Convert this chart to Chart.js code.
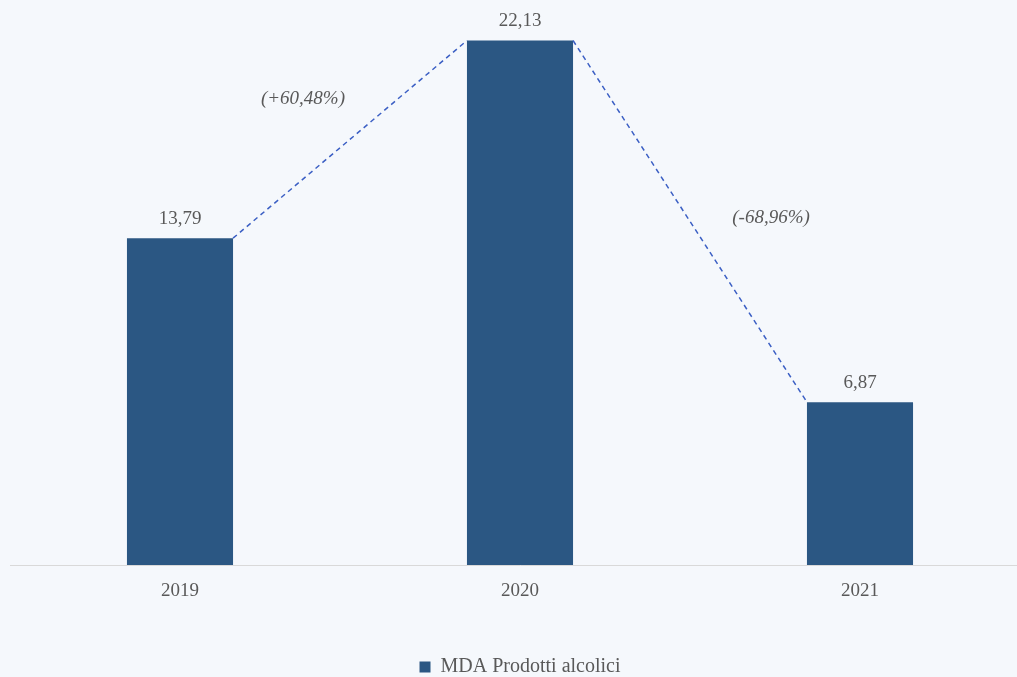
<!DOCTYPE html>
<html>
<head>
<meta charset="utf-8">
<script src="https://cdn.jsdelivr.net/npm/chart.js@4"></script>
<style>
    html, body { margin: 0; padding: 0; overflow: hidden; background: #f5f8fc; }
    #wrap { width: 1030px; height: 677px; }
</style>
</head>
<body>
<div id="wrap"><canvas id="chart" width="1030" height="677"></canvas></div>
<script>
(function () {
    var years = ['2019', '2020', '2021'];
    var values = [13.79, 22.13, 6.87];
    var valueLabels = ['13,79', '22,13', '6,87'];
    var changeLabels = ['(+60,48%)', '(-68,96%)'];
    var seriesName = 'MDA Prodotti alcolici';

    var serif = "'Liberation Serif', 'DejaVu Serif', serif";
    var textColor = '#595959';

    // value labels over the bars, dashed links and % changes between them
    var annotations = {
        id: 'annotations',
        afterInit: function (chart) {
            // pull the legend closer to the bottom edge
            var fit = chart.legend.fit;
            chart.legend.fit = function () {
                fit.call(this);
                this.height -= 10;
            };
        },
        afterDatasetsDraw: function (chart) {
            var ctx = chart.ctx;
            var bars = chart.getDatasetMeta(0).data;
            ctx.save();

            ctx.fillStyle = textColor;
            ctx.font = '19px ' + serif;
            ctx.textAlign = 'center';
            ctx.textBaseline = 'bottom';
            bars.forEach(function (b, i) {
                ctx.fillText(valueLabels[i], b.x, b.y - 10);
            });

            ctx.strokeStyle = '#3b5fc4';
            ctx.lineWidth = 1.5;
            ctx.setLineDash([5, 4]);
            for (var i = 0; i < bars.length - 1; i++) {
                var a = bars[i], c = bars[i + 1];
                ctx.beginPath();
                ctx.moveTo(a.x + a.width / 2, a.y);
                ctx.lineTo(c.x - c.width / 2, c.y);
                ctx.stroke();
            }
            ctx.setLineDash([]);

            ctx.font = 'italic 19px ' + serif;
            ctx.textBaseline = 'middle';
            var offsets = [[-47, -40], [81, -3]];
            for (var j = 0; j < changeLabels.length; j++) {
                var p = bars[j], q = bars[j + 1];
                var mx = (p.x + p.width / 2 + q.x - q.width / 2) / 2;
                var my = (p.y + q.y) / 2;
                ctx.fillText(changeLabels[j], mx + offsets[j][0], my + offsets[j][1]);
            }
            ctx.restore();
        }
    };

    var ctx = document.getElementById('chart');
    new Chart(ctx, {
        type: 'bar',
        data: {
            labels: years,
            datasets: [{
                label: seriesName,
                data: values,
                backgroundColor: '#2b5783',
                borderWidth: 0,
                barPercentage: 0.312,
                categoryPercentage: 1
            }]
        },
        options: {
            responsive: false,
            animation: false,
            layout: { padding: { left: 10, right: 0, top: 0, bottom: 0 } },
            scales: {
                x: {
                    grid: { display: false },
                    border: { display: true, color: '#d9d9d9', width: 1 },
                    ticks: { color: textColor, font: { family: serif, size: 19 }, padding: 7 },
                    afterFit: function (s) { s.height = 90; }
                },
                y: {
                    display: false,
                    min: 0,
                    max: 23.84
                }
            },
            plugins: {
                legend: {
                    position: 'bottom',
                    labels: {
                        color: textColor,
                        font: { family: serif, size: 20 },
                        boxWidth: 11,
                        boxHeight: 11,
                        padding: 2
                    }
                },
                tooltip: { enabled: false }
            }
        },
        plugins: [annotations]
    });
})();
</script>
</body>
</html>
